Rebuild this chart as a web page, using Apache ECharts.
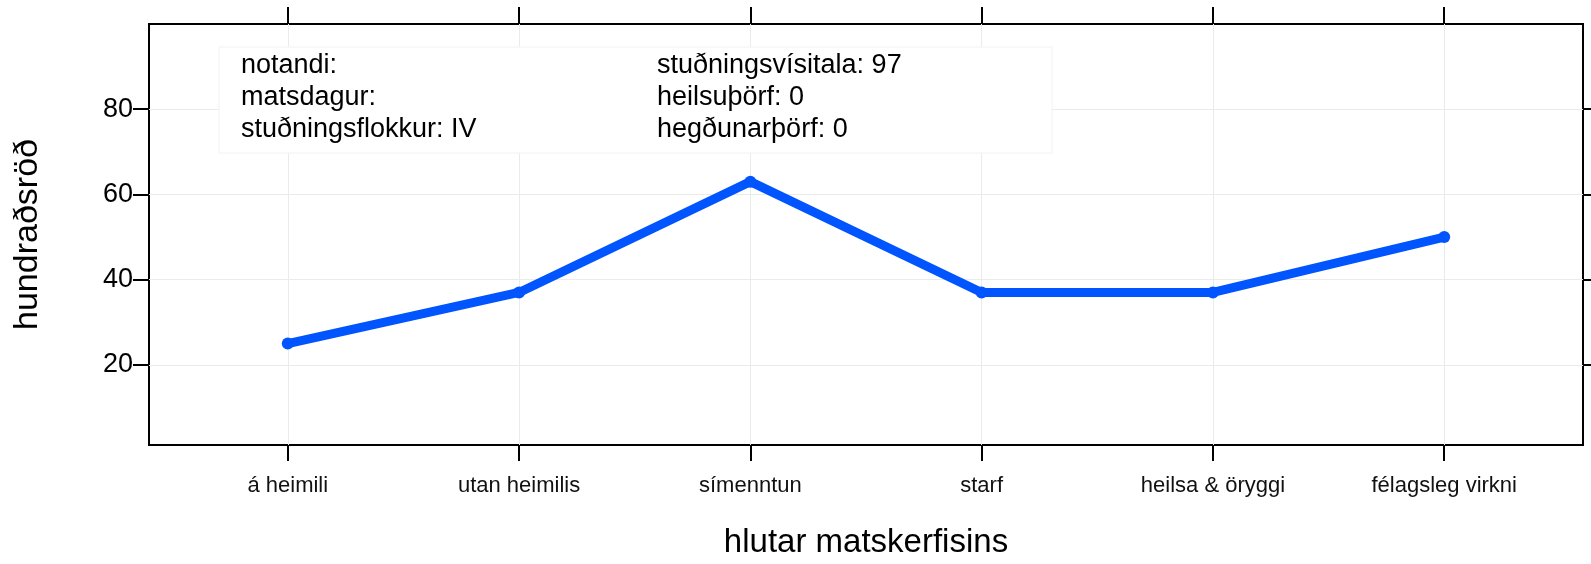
<!DOCTYPE html>
<html>
<head>
<meta charset="utf-8">
<script src="https://cdn.jsdelivr.net/npm/echarts@6/dist/echarts.min.js"></script>
<style>
html,body{margin:0;padding:0;background:#fff;}
#chart{width:1591px;height:564px;}
</style>
</head>
<body>
<div id="chart"></div>
<script>
const categories = ['á heimili', 'utan heimilis', 'símenntun', 'starf', 'heilsa & öryggi', 'félagsleg virkni'];
const values = [25, 37, 63, 37, 37, 50];
const yTicks = [20, 40, 60, 80];
const infoLeft = ['notandi:', 'matsdagur:', 'stuðningsflokkur: IV'];
const infoRight = ['stuðningsvísitala: 97', 'heilsuþörf: 0', 'hegðunarþörf: 0'];
const xTitle = 'hlutar matskerfisins';
const yTitle = 'hundraðsröð';

const xPos = categories.map((c, i) => i + 1);
const font = '"Liberation Sans", Arial, Helvetica, sans-serif';
const chart = echarts.init(document.getElementById('chart'));
const tickStyle = { color: '#000', width: 2 };
const gridLine = { color: '#ebebeb', width: 1 };

chart.setOption({
  backgroundColor: '#fff',
  animation: false,
  grid: { left: 149, right: 8, top: 24, bottom: 110, show: true, borderColor: '#000', borderWidth: 2, backgroundColor: 'transparent' },
  xAxis: [{
    type: 'value', min: 0.4, max: 6.6, position: 'bottom',
    name: xTitle, nameLocation: 'middle', nameGap: 81,
    nameTextStyle: { fontFamily: font, fontSize: 33, color: '#000' },
    axisLine: { show: false },
    axisTick: { show: true, inside: false, length: 16, lineStyle: tickStyle, customValues: xPos },
    axisLabel: { customValues: xPos, margin: 30, fontFamily: font, fontSize: 22, color: '#111',
      formatter: v => categories[Math.round(v) - 1] || '' },
    splitLine: { show: true, lineStyle: gridLine }
  }, {
    type: 'value', min: 0.4, max: 6.6, position: 'top',
    axisLine: { show: false },
    axisTick: { show: true, inside: false, length: 17, lineStyle: tickStyle, customValues: xPos },
    axisLabel: { show: false },
    splitLine: { show: false }
  }],
  yAxis: [{
    type: 'value', min: 1.2, max: 100, position: 'left',
    name: yTitle, nameLocation: 'middle', nameGap: 104,
    nameTextStyle: { fontFamily: font, fontSize: 34, color: '#000' },
    axisLine: { show: false },
    axisTick: { show: true, inside: false, length: 16, lineStyle: tickStyle, customValues: yTicks },
    axisLabel: { customValues: yTicks, margin: 16, fontFamily: font, fontSize: 27, color: '#000' },
    splitLine: { show: true, lineStyle: gridLine }
  }, {
    type: 'value', min: 1.2, max: 100, position: 'right',
    axisLine: { show: false },
    axisTick: { show: true, inside: false, length: 10, lineStyle: tickStyle, customValues: yTicks },
    axisLabel: { show: false },
    splitLine: { show: false }
  }],
  graphic: [
    { type: 'rect', z: 5, shape: { x: 219, y: 47, width: 833, height: 106 },
      style: { fill: '#fff', stroke: '#f2f2f2', lineWidth: 1 } },
    { type: 'text', z: 6, left: 241, top: 50,
      style: { text: infoLeft.join('\n'), font: '27px ' + font, lineHeight: 32, fill: '#000' } },
    { type: 'text', z: 6, left: 657, top: 50,
      style: { text: infoRight.join('\n'), font: '27px ' + font, lineHeight: 32, fill: '#000' } }
  ],
  series: [{
    type: 'line', xAxisIndex: 0, yAxisIndex: 0,
    data: xPos.map((x, i) => [x, values[i]]),
    symbol: 'circle', symbolSize: 12, showSymbol: true,
    itemStyle: { color: '#0055ff' },
    lineStyle: { color: '#0055ff', width: 9, cap: 'round', join: 'round' },
    z: 3
  }]
});
</script>
</body>
</html>
